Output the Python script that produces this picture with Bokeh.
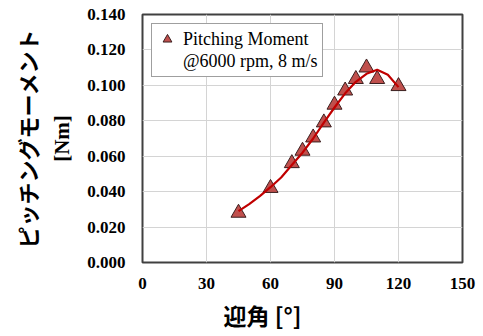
import math
from bokeh.plotting import figure
from bokeh.models import (Range1d, FixedTicker, NumeralTickFormatter, Title,
                          Legend, LegendItem, ColumnDataSource)
from bokeh.embed import file_html
from bokeh.resources import INLINE

# ---- data ----
aoa = [45, 60, 70, 75, 80, 85, 90, 95, 100, 105, 110, 120]
moment = [0.028, 0.042, 0.056, 0.063, 0.0705, 0.079, 0.089, 0.097, 0.1035, 0.110, 0.1035, 0.0995]

curve_aoa = [45, 50, 55, 60, 65, 70, 75, 80, 85, 90, 95, 100, 105, 110, 115, 120]
curve_moment = [0.029, 0.033, 0.0375, 0.0425, 0.048, 0.055, 0.062, 0.070, 0.079, 0.0875,
                0.0955, 0.102, 0.1065, 0.1088, 0.106, 0.099]

x_ticks = [0, 30, 60, 90, 120, 150]
y_ticks = [0.0, 0.02, 0.04, 0.06, 0.08, 0.10, 0.12, 0.14]

legend_line1 = "Pitching Moment"
legend_line2 = "@6000 rpm, 8 m/s"
y_title_jp = "ピッチングモーメント"
y_title_unit = "[Nm]"
x_title = "迎角 [°]"

SERIF = "Liberation Serif"
CJK = "Noto Sans CJK JP"

p = figure(width=483, height=336, output_backend="svg", toolbar_location=None,
           x_range=Range1d(0, 150), y_range=Range1d(0, 0.14))
p.min_border_left = 142
p.min_border_right = 21
p.min_border_top = 14
p.min_border_bottom = 73
p.background_fill_color = "white"
p.border_fill_color = "white"
p.outline_line_color = "#404040"
p.outline_line_width = 2

p.xaxis.ticker = FixedTicker(ticks=x_ticks)
p.yaxis.ticker = FixedTicker(ticks=y_ticks)
p.yaxis.formatter = NumeralTickFormatter(format="0.000")
for ax in (p.xaxis, p.yaxis):
    ax.axis_line_color = None
    ax.major_tick_line_color = None
    ax.minor_tick_line_color = None
    ax.major_tick_in = 0
    ax.major_tick_out = 0
    ax.minor_tick_out = 0
    ax.major_label_text_font = SERIF
    ax.major_label_text_font_style = "bold"
    ax.major_label_text_font_size = "17px"
    ax.major_label_text_color = "black"
p.yaxis.major_label_standoff = 17
p.xaxis.major_label_standoff = 15

p.yaxis.axis_label = y_title_unit
p.yaxis.axis_label_text_font = SERIF
p.yaxis.axis_label_text_font_style = "bold"
p.yaxis.axis_label_text_font_size = "21px"
p.yaxis.axis_label_text_color = "black"
p.yaxis.axis_label_standoff = 10

p.grid.grid_line_color = "#d4d4d4"
p.grid.grid_line_width = 1

src = ColumnDataSource(data=dict(x=aoa, y=moment))
pts = p.scatter("x", "y", source=src, marker="triangle", size=15,
                fill_color="#c0504d", line_color="#3b1f1f", line_width=1)
p.line(curve_aoa, curve_moment, line_color="#c00000", line_width=2.2)

blank = p.scatter(x=[], y=[], marker="triangle", fill_alpha=0, line_alpha=0)

legend = Legend(items=[LegendItem(label=legend_line1, renderers=[pts]),
                       LegendItem(label=legend_line2, renderers=[blank])],
                location="top_left")
legend.margin = 9
legend.padding = 4
legend.spacing = 0
legend.glyph_width = 22
legend.glyph_height = 22
legend.label_standoff = 5
legend.label_text_font = SERIF
legend.label_text_font_size = "18px"
legend.label_text_color = "black"
legend.border_line_color = "#404040"
legend.border_line_width = 1
legend.background_fill_color = "white"
legend.background_fill_alpha = 1
p.add_layout(legend, "center")

p.add_layout(Title(text=y_title_jp, align="center", text_font=CJK,
                   text_font_style="bold", text_font_size="22px",
                   text_color="black", standoff=10), "left")
p.add_layout(Title(text=x_title, align="left", offset=81, text_font=CJK,
                   text_font_style="bold", text_font_size="23px",
                   text_color="black", standoff=9), "below")

open("out.html", "w").write(file_html(p, INLINE))
